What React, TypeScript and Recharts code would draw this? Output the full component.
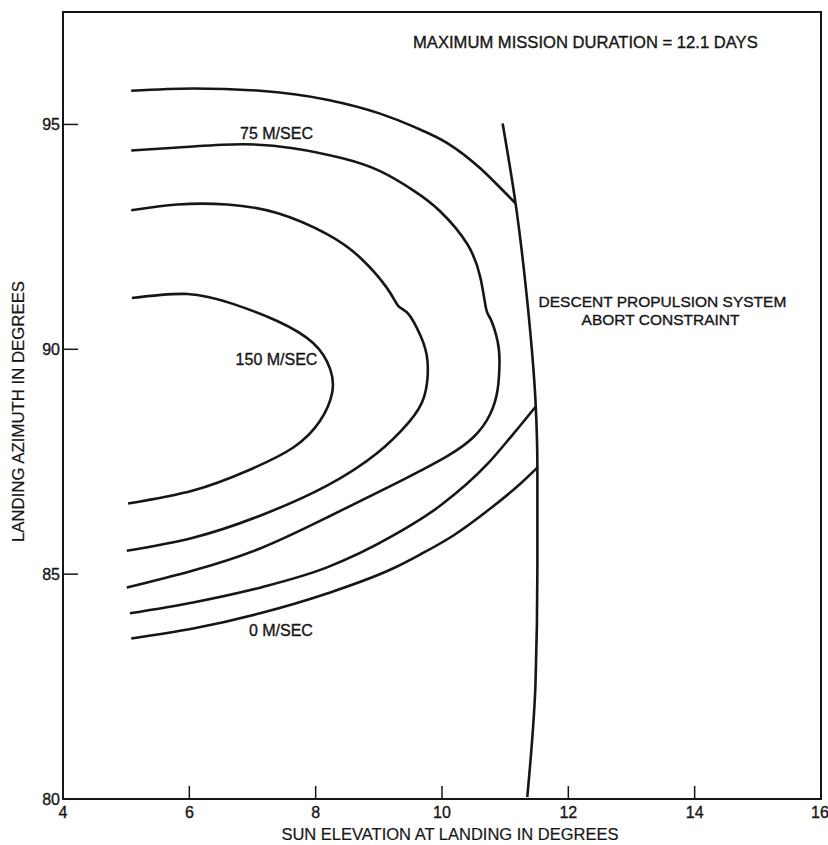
import { LineChart, Line, XAxis, YAxis, ReferenceArea, ReferenceDot, Label } from "recharts";

type Pt = { x: number; y: number };

const FONT = '"Liberation Sans", Arial, sans-serif';
const INK = "#161616";

const xTicks = [4, 6, 8, 10, 12, 14, 16];
const yTicks = [80, 85, 90, 95];

// contours of delta-V margin (sun elevation, landing azimuth)
const c150: Pt[] = [
  { x: 5.09, y: 91.14 }, { x: 5.97, y: 91.23 }, { x: 6.69, y: 91.01 }, { x: 7.39, y: 90.63 },
  { x: 7.96, y: 90.14 }, { x: 8.23, y: 89.56 }, { x: 8.26, y: 89.03 }, { x: 8.07, y: 88.41 },
  { x: 7.64, y: 87.81 }, { x: 6.92, y: 87.3 }, { x: 6.06, y: 86.86 }, { x: 5.03, y: 86.57 },
];

const c112: Pt[] = [
  { x: 5.08, y: 93.09 }, { x: 5.81, y: 93.22 }, { x: 6.6, y: 93.22 }, { x: 7.39, y: 93.03 },
  { x: 8.18, y: 92.56 }, { x: 8.71, y: 92.03 }, { x: 9.13, y: 91.36 }, { x: 9.31, y: 90.96 },
  { x: 9.47, y: 90.78 }, { x: 9.66, y: 90.3 }, { x: 9.77, y: 89.74 }, { x: 9.72, y: 88.96 },
  { x: 9.47, y: 88.37 }, { x: 8.98, y: 87.7 }, { x: 8.18, y: 86.97 }, { x: 7.12, y: 86.3 },
  { x: 6.06, y: 85.81 }, { x: 5.01, y: 85.52 },
];

const c75: Pt[] = [
  { x: 5.08, y: 94.42 }, { x: 6.06, y: 94.51 }, { x: 6.85, y: 94.56 }, { x: 7.64, y: 94.47 },
  { x: 8.44, y: 94.24 }, { x: 9.02, y: 93.96 }, { x: 9.55, y: 93.53 }, { x: 9.97, y: 93.07 },
  { x: 10.4, y: 92.34 }, { x: 10.61, y: 91.58 }, { x: 10.7, y: 90.89 }, { x: 10.77, y: 90.67 },
  { x: 10.88, y: 90.18 }, { x: 10.91, y: 89.7 }, { x: 10.88, y: 89.1 }, { x: 10.76, y: 88.55 },
  { x: 10.5, y: 88.05 }, { x: 10.09, y: 87.63 }, { x: 9.66, y: 87.3 }, { x: 9.23, y: 86.99 },
  { x: 8.18, y: 86.26 }, { x: 7.12, y: 85.57 }, { x: 6.06, y: 85.08 }, { x: 5.01, y: 84.7 },
];

const c37Upper: Pt[] = [
  { x: 5.08, y: 95.75 }, { x: 6.06, y: 95.8 }, { x: 7.12, y: 95.75 }, { x: 8.18, y: 95.55 },
  { x: 9.02, y: 95.24 }, { x: 9.55, y: 94.95 }, { x: 10.09, y: 94.58 }, { x: 10.61, y: 94.02 },
  { x: 10.93, y: 93.58 }, { x: 11.16, y: 93.25 },
];

const c37Lower: Pt[] = [
  { x: 5.06, y: 84.13 }, { x: 6.06, y: 84.37 }, { x: 7.12, y: 84.7 }, { x: 8.18, y: 85.15 },
  { x: 9.23, y: 85.86 }, { x: 9.97, y: 86.52 }, { x: 10.72, y: 87.45 }, { x: 11.13, y: 88.12 },
  { x: 11.48, y: 88.72 },
];

const c0: Pt[] = [
  { x: 5.08, y: 83.57 }, { x: 6.06, y: 83.79 }, { x: 7.12, y: 84.13 }, { x: 8.18, y: 84.57 },
  { x: 9.23, y: 85.13 }, { x: 9.66, y: 85.44 }, { x: 10.18, y: 85.86 }, { x: 10.72, y: 86.41 },
  { x: 11.24, y: 87.01 }, { x: 11.51, y: 87.37 },
];

const abortLine: Pt[] = [
  { x: 10.96, y: 95.02 }, { x: 11.16, y: 93.29 }, { x: 11.35, y: 91.07 }, { x: 11.48, y: 88.85 },
  { x: 11.51, y: 87.37 }, { x: 11.51, y: 85.15 }, { x: 11.48, y: 82.57 }, { x: 11.35, y: 80.04 },
];

const series: { data: Pt[]; curve: "natural" | "monotoneX" | "monotoneY" }[] = [
  { data: c150, curve: "natural" },
  { data: c112, curve: "natural" },
  { data: c75, curve: "natural" },
  { data: c37Upper, curve: "monotoneX" },
  { data: c37Lower, curve: "monotoneX" },
  { data: c0, curve: "monotoneX" },
  { data: abortLine, curve: "monotoneY" },
];

const notes = [
  { x: 7.38, y: 94.8, text: "75 M/SEC", size: 16 },
  { x: 7.38, y: 89.78, text: "150 M/SEC", size: 16 },
  { x: 7.45, y: 83.75, text: "0 M/SEC", size: 16 },
  { x: 12.27, y: 96.84, text: "MAXIMUM MISSION DURATION = 12.1 DAYS", size: 16.6 },
  { x: 13.49, y: 91.07, text: "DESCENT PROPULSION SYSTEM", size: 15.5 },
  { x: 13.46, y: 90.66, text: "ABORT CONSTRAINT", size: 15.5 },
];

const textProps = { fill: INK, stroke: INK, strokeWidth: 0.35, fontFamily: FONT };

const XTick = ({ x, y, payload }: any) => (
  <g>
    {payload.value !== 4 && payload.value !== 16 && (
      <line x1={x} x2={x} y1={y - 8} y2={y - 21} stroke={INK} strokeWidth={1.5} />
    )}
    <text x={x} y={y} dy="0.71em" textAnchor="middle" fontSize={16} {...textProps}>
      {payload.value}
    </text>
  </g>
);

const YTick = ({ x, y, payload }: any) => (
  <g>
    {payload.value !== 80 && (
      <line x1={x + 3} x2={x + 18} y1={y} y2={y} stroke={INK} strokeWidth={1.5} />
    )}
    <text x={x} y={y} dy="0.36em" textAnchor="end" fontSize={16} {...textProps}>
      {payload.value}
    </text>
  </g>
);

const YTitle = ({ viewBox }: any) => {
  const cx = 18;
  const cy = viewBox.y + viewBox.height / 2 + 6;
  return (
    <text x={cx} y={cy} dy="0.36em" textAnchor="middle" transform={`rotate(-90 ${cx} ${cy})`}
      fontSize={16.8} {...textProps} strokeWidth={0.2}>
      LANDING AZIMUTH IN DEGREES
    </text>
  );
};

const XTitle = ({ viewBox }: any) => (
  <text x={viewBox.x + viewBox.width / 2 + 8} y={834} dy="0.36em" textAnchor="middle"
    fontSize={16.5} {...textProps} strokeWidth={0.2}>
    SUN ELEVATION AT LANDING IN DEGREES
  </text>
);

export default function App() {
  return (
    <div style={{ position: "absolute", left: 0, top: 0, background: "#fff" }}>
      <LineChart width={828} height={845} margin={{ top: 12, right: 7, left: 0, bottom: 0 }}>
        <XAxis type="number" dataKey="x" domain={[4, 16]} ticks={xTicks} allowDataOverflow
          height={46} tickSize={0} tickMargin={8} tick={<XTick />} tickLine={false}
          axisLine={{ stroke: INK, strokeWidth: 2 }}>
          <Label content={<XTitle />} />
        </XAxis>
        <YAxis type="number" dataKey="y" domain={[80, 97.5]} ticks={yTicks} allowDataOverflow
          width={63} tickSize={0} tickMargin={3} tick={<YTick />} tickLine={false}
          axisLine={{ stroke: INK, strokeWidth: 2 }}>
          <Label content={<YTitle />} />
        </YAxis>
        <ReferenceArea x1={4} x2={16} y1={80} y2={97.5} fill="none" stroke={INK} strokeWidth={2} />
        {series.map((s, i) => (
          <Line key={i} data={s.data} dataKey="y" type={s.curve} dot={false} activeDot={false}
            stroke={INK} strokeWidth={2.6} isAnimationActive={false} />
        ))}
        {notes.map((n, i) => (
          <ReferenceDot key={i} x={n.x} y={n.y} r={0} fill="none" stroke="none"
            label={{ value: n.text, position: "center", fontSize: n.size, ...textProps }} />
        ))}
      </LineChart>
    </div>
  );
}
